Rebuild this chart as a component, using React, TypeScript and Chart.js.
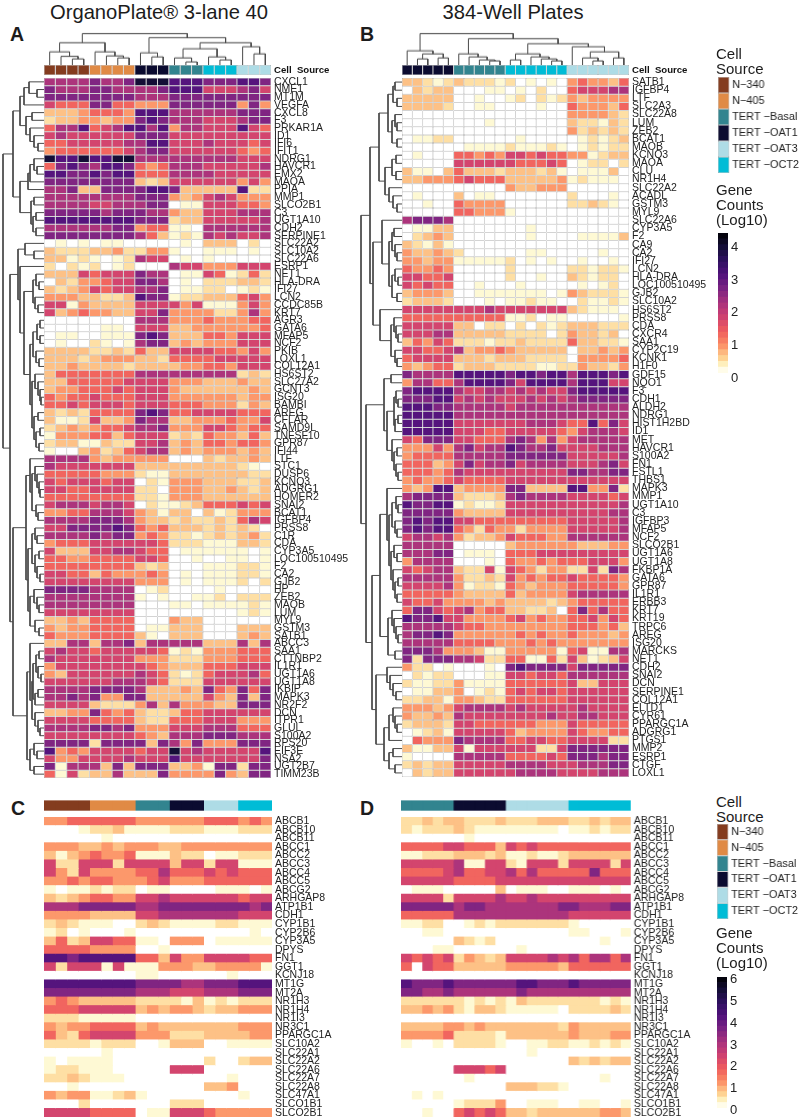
import React, { useEffect, useRef } from "react";
import { Chart, registerables } from "chart.js";

Chart.register(...registerables);
Chart.defaults.font.family = "'Liberation Sans', Arial, sans-serif";

const sourceNames = ["N−340", "N−405", "TERT −Basal", "TERT −OAT1", "TERT −OAT3", "TERT −OCT2"];
const sourceColors = ["#843C1F", "#E08A45", "#32848F", "#0B0B30", "#AEDCE6", "#00BCD6"];

const sourceA = [0,0,0,0,1,1,1,1,3,3,3,2,2,2,5,5,5,4,4,4];
const sourceB = [3,3,3,3,3,2,2,2,2,2,5,5,5,5,5,5,4,4,4,4,4,4];
const sourceC = [0,0,0,0,1,1,1,1,2,2,2,3,3,3,4,4,4,5,5,5];
const sourceD = [2,2,2,2,2,3,3,3,3,3,4,4,4,4,4,4,5,5,5,5,5,5];

const genesA = ["CXCL1","NME1","MT1M","VEGFA","CXCL8","F3","PRKAR1A","ID1","IFI6","IFIT1","NDRG1","HAVCR1","EMX2","MAOA","PPIA","MMP1","SLCO2B1","C3","UGT1A10","CDH2","SERPINE1","SLC22A2","SLC10A2","SLC22A6","ESRP1","NET1","HLA-DRA","IFI27","LCN2","CCDC85B","KRT7","AGR3","GATA6","MFAP5","NCF2","PKIB","LOXL1","COL12A1","HS6ST2","SLC27A2","GCNT3","ISG20","BAMBI","AREG","CFLAR","SAMD9L","TNFSF10","GPR87","IFI44","LTF","STC1","DUSP6","KCNQ3","ADGRG1","HOMER2","SNAI2","BCAT1","IGFBP4","PRSS8","C1R","CDA","CYP3A5","LOC100510495","F2","CA2","GJB2","HP","ZEB2","MAOB","LUM","MYL9","GSTM3","SATB1","ABCC3","SAA1","CTTNBP2","IL1R1","UGT1A6","UGT1A8","IKBIP","MAPK3","NR2F2","DCN","ITPR1","GLUL","S100A2","RPS20","EIF3E","NSA2","UGT2B7","TIMM23B"];

const levelsA = [
[7,7,7,7,8,7,7,8,10,10,10,9,9,9,8,8,8,9,9,8],
[8,7,7,7,8,8,7,7,7,7,8,9,9,9,6,6,6,7,8,6],
[8,8,8,8,8,8,8,8,7,7,7,8,8,8,8,8,8,8,8,8],
[6,5,5,5,8,8,5,5,4,4,4,8,8,8,8,8,8,4,8,4],
[3,3,3,4,5,5,5,4,9,9,9,7,7,7,7,7,7,8,8,8],
[2,3,3,4,4,3,4,4,8,9,8,7,7,7,6,6,6,7,8,8],
[5,7,7,9,5,6,7,9,9,7,9,4,7,7,6,6,6,9,6,5],
[6,7,6,6,6,6,6,6,8,8,8,6,6,6,6,6,6,6,6,6],
[5,5,6,6,6,6,6,7,7,9,9,6,6,6,7,6,6,6,5,6],
[4,5,5,5,5,5,5,6,7,8,8,6,6,6,6,6,6,5,4,5],
[10,9,9,10,9,9,10,10,7,7,7,7,7,7,7,7,7,6,6,6],
[5,8,9,8,7,9,9,8,5,4,5,7,7,7,6,6,6,6,6,7],
[9,9,8,8,9,8,9,9,5,5,5,7,7,7,7,6,6,6,6,6],
[8,8,8,8,8,8,8,8,3,2,3,6,6,6,6,6,6,4,6,4],
[7,7,8,3,3,8,8,8,8,9,9,8,3,3,3,3,3,9,2,2],
[7,7,7,7,7,7,7,7,8,8,8,4,3,4,6,7,6,4,4,4],
[7,7,7,7,6,6,7,7,7,8,8,0,1,1,6,6,6,5,5,4],
[8,8,8,8,8,7,8,8,8,7,7,4,3,3,6,6,6,7,7,7],
[9,9,9,9,9,9,9,9,8,8,8,2,3,3,6,6,6,6,6,7],
[7,7,7,7,7,7,8,8,4,5,5,1,1,0,7,7,7,7,7,7],
[8,8,8,8,8,8,8,8,7,5,3,1,2,1,7,6,7,6,6,7],
[0,1,0,1,0,1,1,0,0,0,0,0,1,0,3,3,3,0,2,0],
[3,2,2,2,3,3,4,2,2,4,4,1,0,0,1,1,1,0,1,0],
[3,3,1,2,1,0,1,2,7,6,6,0,1,0,1,0,0,0,0,0],
[2,0,2,1,2,0,1,2,0,0,0,7,6,6,4,4,4,6,6,6],
[3,3,3,6,5,6,6,6,8,7,7,0,1,1,6,5,1,2,5,2],
[0,3,2,4,4,5,6,6,8,8,7,0,1,0,2,2,2,3,3,2],
[3,2,3,4,6,5,6,6,7,7,8,0,1,1,2,2,0,1,2,1],
[4,4,4,3,3,2,2,3,9,8,8,1,2,2,3,3,3,5,6,4],
[6,6,1,4,3,3,3,3,6,6,6,6,4,6,1,1,1,4,6,4],
[6,3,4,5,4,4,3,3,6,6,8,4,4,4,4,2,2,4,7,4],
[0,0,0,0,0,0,0,0,7,7,7,4,4,4,5,4,4,4,5,5],
[0,0,0,0,0,1,1,0,6,6,6,3,3,4,4,4,4,4,4,5],
[0,1,1,0,0,1,1,1,8,9,8,3,3,3,5,5,4,6,6,6],
[0,1,0,0,2,1,0,1,7,8,8,3,4,3,4,4,4,6,6,6],
[3,3,3,3,2,2,3,2,5,3,3,6,6,6,6,5,5,4,6,4],
[3,3,3,2,3,4,4,4,3,3,2,5,5,5,5,6,6,6,6,6],
[3,3,4,3,3,3,3,2,3,3,3,3,4,4,5,5,4,6,6,6],
[3,5,5,5,5,5,5,5,7,7,7,7,7,7,7,7,7,2,3,2],
[3,3,5,5,5,5,5,6,6,6,6,4,4,4,3,3,3,4,3,3],
[3,4,4,5,5,5,6,5,6,6,6,4,3,3,3,3,3,3,4,3],
[5,4,5,5,6,5,5,5,6,6,6,4,4,4,4,4,4,3,4,4],
[5,5,6,5,6,6,6,5,6,6,6,5,5,5,4,4,4,2,4,3],
[3,2,3,2,5,5,5,5,8,9,8,5,5,6,6,6,6,5,5,5],
[3,1,1,2,6,3,3,4,8,7,7,3,3,4,4,4,5,4,4,6],
[2,3,4,3,4,5,5,6,7,7,8,4,4,4,6,6,5,4,5,5],
[1,4,4,4,5,5,3,5,6,6,6,2,3,2,5,4,4,3,5,3],
[2,3,3,1,1,3,2,2,6,6,7,3,4,3,5,5,4,5,5,4],
[1,0,0,3,4,2,3,5,6,7,7,3,4,3,4,4,4,3,4,3],
[7,7,7,7,4,3,4,4,4,4,4,0,0,0,3,2,3,3,4,3],
[7,6,6,6,6,6,6,6,3,3,3,3,3,3,3,3,3,2,1,0],
[5,5,5,5,5,4,4,4,2,1,1,3,3,3,3,3,3,3,2,2],
[6,5,6,6,6,5,6,6,0,2,1,4,4,4,3,3,3,2,2,3],
[6,6,5,5,6,6,6,6,2,2,0,4,4,4,3,3,4,3,2,3],
[5,5,5,5,5,5,5,5,2,2,1,4,4,4,3,3,3,3,3,3],
[6,7,7,7,6,7,7,6,0,2,1,1,2,3,5,5,5,6,5,6],
[4,4,5,5,7,7,7,6,4,3,1,3,3,0,3,1,2,4,4,4],
[7,7,7,7,8,8,8,7,4,3,3,2,3,2,2,3,2,5,7,6],
[6,6,8,8,8,8,9,8,5,4,5,3,3,3,2,3,2,3,2,0],
[7,7,7,7,8,7,8,8,4,5,4,2,2,1,2,3,2,3,4,2],
[4,5,5,5,6,6,6,6,6,6,5,2,2,2,1,1,1,3,3,2],
[6,3,3,3,6,6,7,7,6,5,5,0,1,1,1,1,1,1,0,1],
[5,5,4,4,5,5,5,5,6,6,5,0,0,1,0,0,1,1,0,1],
[5,5,5,5,5,5,5,5,3,2,3,0,0,0,1,1,1,2,2,1],
[6,6,5,5,3,5,4,4,4,5,4,0,1,0,1,1,1,2,2,1],
[6,6,6,6,6,6,6,6,4,4,4,0,1,0,1,1,1,2,0,2],
[8,8,8,8,7,7,7,7,0,1,2,0,0,0,0,1,0,0,0,0],
[7,7,7,7,7,7,7,7,1,0,1,0,0,1,1,2,0,2,2,2],
[7,7,7,7,7,7,7,7,0,0,0,1,1,0,1,1,1,1,2,1],
[6,6,6,6,6,6,6,6,0,0,0,0,0,0,0,0,0,1,2,1],
[3,3,4,3,5,5,5,5,0,0,0,4,3,3,0,0,0,0,0,0],
[4,3,4,4,5,5,5,5,0,1,1,3,3,3,0,0,0,3,3,3],
[5,4,4,4,5,5,5,5,3,1,0,3,3,3,0,0,0,3,4,3],
[3,3,7,7,3,7,7,8,3,7,7,7,7,7,3,3,3,7,3,7],
[6,7,6,6,5,6,6,6,6,6,5,1,2,1,4,4,4,5,5,5],
[7,6,6,6,6,6,6,6,4,4,4,2,2,2,4,4,4,5,5,5],
[4,6,6,6,6,6,6,6,6,5,4,3,3,3,5,5,5,6,6,6],
[4,3,6,6,6,6,6,6,7,6,5,2,1,2,5,6,6,6,7,5],
[6,6,6,6,6,6,7,7,7,6,5,2,2,2,6,6,6,6,6,6],
[7,7,7,7,8,8,8,8,7,3,3,3,4,3,8,5,4,8,5,8],
[7,7,8,7,8,4,4,8,8,3,3,3,3,3,6,4,3,8,3,8],
[6,6,6,6,3,2,2,2,4,7,3,7,4,4,4,3,3,8,8,8],
[3,3,4,4,8,5,4,5,3,2,2,3,5,5,6,6,6,6,6,6],
[6,6,6,6,5,5,5,5,3,2,2,5,5,5,6,6,6,4,4,4],
[7,7,7,7,8,8,7,8,4,4,4,6,6,6,7,7,7,5,5,5],
[6,6,6,6,6,6,6,6,5,4,3,7,7,7,8,8,8,7,7,7],
[8,8,8,8,2,8,8,8,8,3,8,7,4,8,4,4,4,8,8,8],
[9,4,5,4,6,6,6,6,5,6,6,10,6,7,6,6,6,6,6,9],
[6,4,4,6,6,6,6,7,6,6,6,9,6,6,6,6,6,6,6,8],
[8,1,7,7,7,3,8,3,8,8,8,3,3,4,1,8,8,2,8,8],
[5,1,6,2,3,3,7,3,3,3,8,4,4,4,4,8,4,3,8,8],
];

const genesB = ["SATB1","IGFBP4","LTF","SLC2A3","SLC22A8","LUM","ZEB2","BCAT1","MAOB","KCNQ3","MAOA","CLU","NR1H4","SLC22A2","ACADL","GSTM3","MYL9","SLC22A6","CYP3A5","F2","CA9","CA2","IFI27","LCN2","HLA-DRA","LOC100510495","GJB2","SLC10A2","HS6ST2","PRSS8","CDA","CXCR4","SAA1","CYP2C19","KCNK1","H1F0","GDF15","NQO1","F3","CDH1","ALDH2","NDRG1","HIST1H2BD","ID1","MET","HAVCR1","S100A2","FN1","FSTL1","THBS1","MAPK3","MMP1","UGT1A10","C3","IGFBP3","MFAP5","NCF2","SLCO2B1","UGT1A6","UGT1A8","FKBP1A","GATA6","GPR87","IL1R1","ERBB3","KRT7","KRT19","TRPC6","AREG","ISG20","MARCKS","NET1","CDH2","SNAI2","DCN","SERPINE1","COL12A1","ELTD1","CYR61","PPARGC1A","ADGRG1","PTGS1","MMP2","ESRP1","CTGF","LOXL1"];

const levelsB = [
[3,3,2,1,2,3,2,2,2,1,2,0,1,0,1,0,4,5,4,4,3,5],
[0,3,2,3,3,0,0,0,1,1,0,1,0,2,0,0,5,6,6,6,7,7],
[3,3,3,3,3,0,0,1,0,0,1,2,0,2,1,2,4,3,4,4,4,4],
[3,3,3,3,2,0,0,1,1,0,0,0,0,1,0,0,5,4,4,4,3,5],
[0,0,0,0,0,0,0,0,0,0,0,0,0,0,0,0,4,4,4,4,3,2],
[0,0,0,0,0,0,0,0,1,0,0,0,0,0,0,0,3,2,2,1,3,2],
[0,0,0,0,0,0,0,0,0,0,0,0,0,0,0,0,4,2,3,2,3,2],
[0,1,1,2,2,0,0,0,0,0,0,1,0,0,0,0,0,1,2,1,2,3],
[0,0,0,0,0,0,1,1,1,1,2,1,1,1,2,1,0,1,2,1,2,2],
[0,1,0,0,0,5,5,4,5,4,6,6,5,6,5,5,4,4,1,2,3,3],
[0,0,0,0,0,6,6,6,6,6,6,5,5,5,6,5,0,1,2,2,0,2],
[3,1,1,0,3,5,3,3,3,2,3,3,3,2,3,1,0,1,1,1,3,0],
[3,3,4,4,4,5,6,5,5,5,3,3,3,3,3,4,1,2,1,1,1,0],
[0,0,0,0,0,0,0,0,0,0,4,3,3,4,4,4,0,0,0,0,0,0],
[0,1,0,0,0,3,0,1,1,0,0,0,0,0,0,0,2,0,0,0,1,0],
[0,0,1,0,0,5,4,4,4,4,0,0,0,0,0,0,2,2,3,2,1,0],
[0,0,0,0,0,5,5,4,4,4,1,0,0,0,0,0,0,0,0,0,0,0],
[7,8,8,8,7,0,0,0,0,0,0,0,0,0,0,0,0,0,0,0,0,0],
[0,1,1,3,3,0,0,0,0,0,0,0,1,0,0,0,0,0,0,0,0,0],
[0,2,3,4,3,0,0,0,0,0,0,0,1,0,0,0,0,1,1,1,1,3],
[3,2,1,3,1,0,0,0,0,0,0,0,0,0,0,0,0,0,0,0,0,0],
[4,3,3,4,3,2,0,0,0,0,0,0,1,1,0,0,0,0,0,1,0,0],
[4,4,3,4,4,1,1,1,1,1,2,0,1,0,1,0,0,1,0,0,1,0],
[5,4,4,5,4,0,0,0,0,0,2,0,0,0,0,0,2,2,1,2,2,1],
[6,6,5,5,6,0,0,0,0,0,2,0,0,1,0,0,3,2,1,2,2,0],
[6,5,6,5,5,0,0,1,0,0,0,1,0,0,0,0,0,1,0,1,2,0],
[3,4,4,4,3,0,0,1,1,1,1,1,1,1,0,1,4,3,2,2,2,1],
[2,3,3,3,2,0,0,0,1,0,1,1,2,1,1,0,0,2,1,1,2,1],
[6,6,6,6,6,6,6,6,7,6,6,6,6,6,6,6,3,2,1,1,1,0],
[5,5,5,5,5,5,5,5,5,5,1,1,2,0,1,1,0,0,0,0,0,1],
[6,6,6,6,6,3,3,0,2,2,0,2,0,2,1,2,3,3,3,2,2,2],
[6,6,6,7,7,3,3,3,3,3,2,2,2,2,0,2,4,3,3,2,3,0],
[3,5,4,6,5,2,2,2,1,2,2,3,2,2,2,2,5,3,3,2,2,1],
[6,6,5,5,6,7,3,4,4,5,4,3,3,3,3,3,0,3,3,4,3,4],
[5,6,6,6,6,3,3,3,2,3,3,3,2,2,2,2,0,4,4,4,4,5],
[4,3,4,5,5,2,3,3,3,2,2,2,2,1,1,2,2,4,3,3,2,4],
[8,7,7,7,7,9,9,9,9,9,8,9,9,8,9,9,7,9,9,9,8,9],
[4,7,7,5,5,7,9,9,9,9,8,6,9,9,9,9,7,9,9,9,6,6],
[8,9,9,9,9,7,6,6,7,7,6,7,6,7,6,6,8,9,9,9,9,9],
[8,8,8,9,9,6,7,6,7,6,6,6,7,6,7,6,7,8,8,8,8,8],
[9,9,9,8,8,7,7,7,7,7,6,7,7,7,7,7,7,7,7,7,7,7],
[9,9,9,9,9,7,7,7,7,7,7,7,7,7,7,7,7,7,7,7,7,7],
[9,9,9,9,9,6,6,6,6,6,6,6,7,7,7,6,5,5,9,5,8,6],
[9,9,9,9,9,6,6,6,5,5,6,6,6,6,6,5,4,6,7,7,7,6],
[6,5,8,8,8,6,6,5,5,5,7,8,7,4,7,4,6,7,7,7,7,7],
[4,4,4,6,4,7,8,6,7,7,9,8,7,7,8,6,6,6,6,7,7,7],
[4,5,5,5,5,7,7,7,7,7,8,8,8,8,8,8,6,6,6,6,6,7],
[5,5,5,3,4,6,8,6,7,7,8,6,7,7,7,7,6,6,6,7,8,6],
[5,5,5,4,5,7,6,6,6,6,6,6,6,6,6,6,8,8,7,7,8,8],
[4,5,4,4,5,6,5,5,5,5,6,6,6,6,6,6,6,6,6,6,6,6],
[4,3,4,9,9,3,4,4,4,4,8,8,3,3,3,3,9,9,4,4,8,2],
[7,8,8,8,8,3,2,2,2,3,7,8,7,7,7,7,6,6,6,6,5,6],
[9,8,8,9,9,1,2,1,1,2,6,6,6,6,6,6,6,6,6,6,6,7],
[8,8,8,8,8,4,3,3,3,3,6,6,6,6,6,6,6,6,6,6,7,7],
[8,9,8,9,9,6,6,5,5,5,5,5,5,5,5,5,6,6,6,6,6,7],
[8,9,8,9,9,5,4,2,5,4,4,2,4,4,4,4,6,6,6,6,6,7],
[6,7,7,6,7,4,2,3,3,4,6,5,5,5,4,4,7,7,7,7,7,7],
[7,7,7,7,7,0,0,0,0,0,3,4,4,4,4,4,4,3,3,3,4,4],
[7,7,7,8,8,0,1,1,1,0,5,5,5,6,6,6,6,6,6,6,6,6],
[4,7,7,7,7,0,0,0,1,0,5,4,4,5,4,5,5,5,6,6,6,4],
[6,5,6,7,7,3,2,2,6,1,6,5,4,2,4,4,2,2,6,2,8,7],
[7,7,7,7,7,4,2,2,3,2,6,4,5,4,5,5,6,5,5,5,5,4],
[6,6,6,6,7,4,1,2,2,1,5,4,3,4,4,4,5,5,5,5,5,4],
[5,5,5,5,5,4,3,3,3,3,5,3,4,4,4,4,6,7,7,7,7,7],
[6,5,5,6,4,4,4,4,3,4,3,3,3,3,2,3,4,5,5,5,5,5],
[5,8,8,6,5,6,7,4,5,5,3,3,2,2,3,0,5,8,5,7,5,5],
[9,8,8,9,6,6,4,4,4,4,5,6,4,5,4,4,5,5,6,4,6,5],
[7,7,7,7,7,6,5,5,4,4,4,4,4,4,4,4,5,5,5,4,5,3],
[7,8,8,9,8,4,4,4,4,4,4,5,4,5,4,4,5,4,4,4,3,4],
[7,7,7,7,7,5,5,5,5,4,4,4,5,4,5,4,4,4,4,4,4,4],
[8,8,8,7,4,4,4,3,1,1,4,4,4,4,4,1,5,6,1,1,7,7],
[8,2,8,8,8,7,7,6,2,2,5,5,1,1,5,2,6,3,1,2,3,6],
[4,2,2,0,1,0,0,0,1,0,8,9,8,8,8,8,6,8,8,8,8,8],
[0,2,1,2,2,0,0,0,1,1,6,6,5,6,6,5,7,7,7,7,7,7],
[2,1,1,2,2,4,1,1,1,1,5,5,5,5,5,5,6,3,3,6,6,6],
[0,1,1,3,3,4,0,1,2,1,5,6,5,6,6,5,6,6,6,6,6,6],
[2,2,3,3,1,4,4,3,2,2,5,5,5,5,5,5,6,6,6,6,6,6],
[4,4,4,3,4,6,7,7,7,7,6,7,6,6,6,6,6,7,6,6,6,6],
[4,3,3,4,3,7,6,6,6,6,6,6,6,6,7,6,6,7,7,6,6,6],
[2,3,3,3,2,6,6,5,5,5,5,5,5,4,4,4,6,5,5,5,5,5],
[0,1,2,3,1,6,6,6,6,6,5,3,4,4,4,4,6,5,4,4,5,5],
[0,5,4,4,4,8,7,7,7,7,5,5,6,6,5,5,6,6,6,6,2,2],
[3,1,1,3,3,6,1,6,6,6,6,6,6,2,2,6,8,8,8,8,8,8],
[1,0,0,0,0,7,7,7,7,7,5,5,5,5,6,5,8,8,8,7,8,8],
[2,3,2,3,3,6,6,6,6,6,7,7,7,7,6,6,6,7,7,7,8,8],
[0,3,2,3,3,6,6,6,6,6,6,7,7,7,7,6,6,6,6,7,7,7],
];

const genesCD = ["ABCB1","ABCB10","ABCB11","ABCC1","ABCC2","ABCC3","ABCC4","ABCC5","ABCG2","ARHGAP8","ATP1B1","CDH1","CYP1B1","CYP2B6","CYP3A5","DPYS","FN1","GGT1","KCNJ18","MT1G","MT2A","NR1H3","NR1H4","NR1I3","NR3C1","PPARGC1A","SLC10A2","SLC22A1","SLC22A2","SLC22A6","SLC22A7","SLC22A8","SLC47A1","SLCO1B1","SLCO2B1"];

const levelsC = [
[4,4,5,5,5,5,5,5,4,4,4,4,4,4,5,5,5,4,5,4],
[0,0,0,1,2,2,3,1,1,1,1,2,2,2,1,1,1,2,2,2],
[0,0,0,0,0,1,0,0,0,0,0,0,0,0,0,0,0,0,0,0],
[4,4,4,3,3,4,3,4,4,4,3,3,4,4,4,4,4,4,4,4],
[3,1,3,4,5,4,4,5,1,1,1,3,2,2,0,1,1,2,2,2],
[6,2,2,6,6,6,2,6,6,6,6,3,6,6,2,6,6,1,1,1],
[6,4,2,6,4,4,4,4,5,5,7,5,5,5,6,5,6,5,5,5],
[4,4,5,4,5,5,4,4,4,5,6,4,4,4,5,5,5,5,5,5],
[1,0,1,1,2,1,2,2,0,1,1,0,0,0,0,1,1,1,0,1],
[3,2,3,4,5,5,4,4,6,6,7,6,6,6,6,6,6,5,6,6],
[7,7,7,8,8,8,8,8,7,7,8,8,8,8,8,8,8,8,7,8],
[4,4,4,4,3,3,3,3,6,6,7,7,7,7,7,7,7,6,6,6],
[2,3,2,1,1,1,0,0,2,3,2,1,1,1,1,2,2,1,1,1],
[1,2,0,1,0,0,0,1,0,0,0,0,0,0,0,0,0,0,1,0],
[3,5,2,3,6,6,5,5,1,1,0,4,4,4,0,1,1,1,1,1],
[5,5,5,5,4,4,4,4,0,0,1,0,0,0,0,0,0,0,0,0],
[9,9,8,9,9,9,9,9,5,5,3,6,4,4,6,6,6,6,5,5],
[6,2,6,6,6,1,6,1,1,1,4,4,4,3,3,4,4,4,4,1],
[0,0,0,0,0,0,0,0,1,1,0,0,0,0,0,0,1,0,0,0],
[9,9,9,9,9,9,9,9,8,8,8,8,7,7,8,8,8,9,9,9],
[8,8,8,8,8,8,8,8,7,7,7,6,6,6,7,7,7,8,8,8],
[4,5,4,3,3,3,3,3,2,2,2,2,1,3,1,2,1,2,2,2],
[5,5,5,6,6,6,6,6,3,4,3,4,4,3,2,3,3,4,4,4],
[2,2,2,1,1,1,1,1,0,0,0,0,0,0,0,0,0,0,0,0],
[4,3,4,4,5,5,5,5,3,4,3,3,3,3,3,3,3,4,4,4],
[5,3,2,5,6,6,6,6,4,4,4,2,2,2,3,3,3,3,4,4],
[2,2,2,2,1,2,2,2,0,0,1,3,3,3,0,0,1,1,1,1],
[0,0,0,0,0,1,0,0,0,0,0,0,0,0,0,0,0,0,0,0],
[1,0,1,1,1,1,0,0,0,0,0,0,0,0,2,0,0,2,3,3],
[1,2,2,1,1,1,0,0,0,0,0,6,6,6,0,0,0,0,0,0],
[2,2,3,2,1,1,1,0,0,0,0,0,0,0,0,0,1,0,0,0],
[0,0,1,0,0,0,0,0,0,0,0,0,0,0,3,3,4,0,0,0],
[4,3,4,4,1,1,2,3,1,0,0,0,0,0,0,0,0,1,0,0],
[0,0,0,2,0,0,0,0,0,0,0,2,2,2,0,0,0,0,0,0],
[6,6,6,6,5,5,5,5,0,1,1,6,6,6,5,4,4,4,4,4],
];

const levelsD = [
[2,2,3,2,3,3,2,2,2,3,2,2,2,3,3,3,2,2,3,2,3,3],
[2,1,2,2,2,3,2,1,1,1,1,1,1,1,1,0,1,1,2,1,2,2],
[0,0,0,0,0,0,1,0,0,0,0,0,0,0,0,0,0,0,0,0,0,0],
[5,5,5,5,6,6,5,5,5,3,6,5,6,5,5,5,5,5,5,5,5,5],
[1,1,2,2,2,3,3,3,2,3,1,1,2,1,1,2,3,3,3,3,3,3],
[6,6,6,6,6,7,1,1,6,6,2,1,6,6,6,2,6,6,6,6,2,6],
[5,5,5,5,6,7,5,5,6,6,7,5,7,5,5,5,5,5,8,5,5,5],
[6,6,6,6,6,5,5,5,5,6,6,6,6,6,6,6,6,6,6,6,6,6],
[0,1,1,1,0,0,0,0,0,3,0,1,1,1,0,0,1,1,1,0,1,0],
[6,6,6,6,2,6,6,6,6,7,6,6,7,6,6,6,6,6,6,6,6,6],
[8,8,8,8,8,7,8,8,7,7,7,7,7,7,7,8,8,7,7,7,8,8],
[5,5,5,5,5,7,7,7,7,7,7,7,7,7,7,7,6,6,6,6,6,6],
[1,1,2,2,0,0,1,2,1,2,2,2,2,2,2,2,1,0,0,0,0,0],
[0,0,1,1,0,0,0,0,0,0,0,0,0,0,0,0,1,1,0,0,0,1],
[0,0,0,0,0,3,2,1,2,0,0,0,0,0,0,0,0,0,0,1,0,0],
[0,0,0,1,1,0,0,0,0,0,0,1,0,0,0,0,0,0,0,0,0,0],
[6,5,6,5,6,2,4,3,2,3,6,6,6,6,7,6,7,5,7,7,5,7],
[5,0,6,5,5,3,3,3,3,3,4,4,4,4,4,3,5,5,5,5,5,5],
[0,0,0,0,0,0,0,0,0,0,0,0,0,0,0,0,0,0,0,0,0,0],
[9,8,8,8,9,8,8,8,8,8,8,9,9,8,8,8,9,8,8,8,8,8],
[8,8,7,7,8,7,7,7,7,7,7,8,7,7,7,7,7,7,7,7,7,7],
[2,2,2,2,2,2,1,2,1,2,1,3,2,2,2,2,2,2,2,1,2,1],
[3,3,4,3,4,2,1,3,3,2,1,1,1,1,1,0,2,2,2,2,3,2],
[0,0,0,0,0,0,0,0,0,0,0,0,0,0,0,0,0,0,0,0,0,0],
[3,3,3,3,4,4,3,4,3,3,3,3,3,3,3,2,4,3,3,3,3,3],
[4,4,4,4,5,2,2,2,2,1,3,3,3,3,3,3,4,3,3,3,4,4],
[1,0,0,1,0,2,2,2,2,1,0,0,1,1,2,2,1,1,2,1,2,1],
[0,0,0,0,0,0,0,0,0,0,0,0,1,0,0,0,0,0,0,0,0,0],
[0,0,0,0,0,0,0,0,0,0,0,0,0,0,0,0,3,2,3,2,3,3],
[0,0,0,0,0,6,6,6,5,6,0,0,0,0,0,0,0,0,0,0,0,0],
[0,0,0,0,0,0,1,0,0,0,0,0,0,0,0,0,0,0,0,1,0,0],
[0,0,0,0,0,0,0,0,0,0,3,3,3,2,2,1,0,0,0,0,0,0],
[0,1,0,1,0,0,0,0,0,0,0,0,0,0,0,0,0,0,0,0,0,0],
[0,0,0,0,0,1,2,2,2,4,0,0,1,1,1,0,0,1,1,0,0,1],
[0,0,1,0,0,5,6,5,6,5,3,3,2,3,3,3,3,3,3,4,4,3],
];

// dendrograms: [merge height, left child, right child]; o is a leaf
const o = 0;
const rowTreeA: any = [41,
  [31,
    [24,
      [20, [15, o, [7, o, o]], o],
      [18, [12, o, o], [14, o, [10, o, [6, o, o]]]]],
    [24,
      [16, [14, [10, o, [7, o, o]], o], o],
      [13, [10, o, o], [11, [8, o, o], [8, o, o]]]]],
  [34,
    [26,
      [19, o, [10, o, o]],
      [24, o, [20,
        [11, [8, o, [5, o, o]], [9, o, [6, o, o]]],
        [14,
          [11, [7, [4, o, o], [4, o, o]], [8, o, [5, o, o]]],
          [12, [9, o, [6, o, [4, o, [3, o, o]]]], [10, [6, o, o], [8, [4, o, o], [5, o, o]]]]]]]],
    [31,
      [18,
        [14, o, [12, [9, o, [7, o, [5, o, [4, o, o]]]], [8, o, [6, o, o]]]],
        [16,
          [12, [9, o, [7, o, o]], [9, [5, o, o], [7, o, [4, o, o]]]],
          [14, [10, o, [7, o, [5, o, o]]], [9, o, [5, o, o]]]]],
      [17,
        [14, o, [12, [11, [8, [5, o, o], [6, o, [3, o, o]]], [9, [6, o, o], o]], [9, o, [6, o, [4, o, o]]]]],
        [14, [10, o, [7, o, o]], [10, o, o]]]]]];

const rowTreeB: any = [41,
  [32,
    [23,
      [14, [9, [7, o, o], [5, o, o]], [10, [7, o, [5, o, o]], [5, o, o]]],
      [17, [10, [6, o, o], [6, o, o]], [13, o, [9, o, [5, o, o]]]]],
    [29,
      [20, o, [13, [10, [8, o, o], [7, o, [5, o, o]]], [10, [7, o, [4, o, o]], [5, o, o]]]],
      [22, o, [11, [8, o, [6, o, [4, o, o]]], [7, o, [5, o, o]]]]]],
  [36,
    [18,
      [11, o, o],
      [15,
        [8, [6, o, [4, o, o]], [7, [4, o, o], o]],
        [10, o, [8, [5, o, o], [6, o, [4, o, o]]]]]],
    [30,
      [22,
        [15, o, [13,
          [10, [6, o, [4, o, o]], [7, o, [5, o, o]]],
          [11, [8, o, [5, o, o]], [9, o, [7, [4, o, o], [5, o, o]]]]]],
        [14, [10, o, [8, o, [6, o, [4, o, o]]]], [7, o, o]]],
      [26,
        [15, o, [12, o, [9, o, [6, o, o]]]],
        [18, [13, [9, o, [7, o, [5, o, o]]], o], [13, [9, o, o], [7, o, o]]]]]]];

const colTreeA: any = [31,
  [22, [13, o, [8.5, o, [6, o, o]]], [13, o, [9, o, [7, o, o]]]],
  [27,
    [12, o, [8, o, o]],
    [22, [16, [7, o, [3, o, o]], [8, o, [5, o, o]]], [18, o, [11, o, o]]]]];

const colTreeB: any = [31,
  [14, o, [11, [6, o, o], [7, o, o]]],
  [26,
    [11, o, [8, o, [5, o, [4, o, o]]]],
    [21,
      [11, [5, o, o], [8, o, [6, o, [4, o, o]]]],
      [18, o, [13, [7, o, [4, o, o]], [7, o, o]]]]]];

const tickValuesAB = [0, 1, 2, 3, 4];
const tickValuesCD = [0, 1, 2, 3, 4, 5, 6];

// colour ramp: reversed magma with a white start
const rampStops: [number, string][] = [
  [0, "#FFFFFF"], [0.05, "#FEF7C9"], [0.1, "#FED594"], [0.15, "#FDB47D"], [0.2, "#FB8C63"],
  [0.3, "#EE5B5E"], [0.4, "#CE4171"], [0.5, "#A8327D"], [0.6, "#7B2382"], [0.7, "#51127C"],
  [0.8, "#2E1060"], [0.9, "#140E36"], [1, "#000004"],
];
const levelStops = [0, 0.04, 0.085, 0.13, 0.185, 0.28, 0.385, 0.49, 0.59, 0.69, 0.9];

function ramp(t: number): string {
  const c = Math.max(0, Math.min(1, t));
  let i = 0;
  while (i < rampStops.length - 2 && c > rampStops[i + 1][0]) i++;
  const [t0, a] = rampStops[i];
  const [t1, b] = rampStops[i + 1];
  const f = (c - t0) / (t1 - t0);
  const ch = (s: string, k: number) => parseInt(s.slice(k, k + 2), 16);
  const mix = (k: number) => Math.round(ch(a, k) + (ch(b, k) - ch(a, k)) * f);
  return `rgb(${mix(1)},${mix(3)},${mix(5)})`;
}
const levelColor = (l: number) => ramp(levelStops[l] ?? 0);
const sourceColor = (i: number) => sourceColors[i];

type Box = { left: number; top: number; width: number; height: number };

function heatConfig(
  labels: string[],
  matrix: number[][],
  color: (v: number) => string,
  o2: { grid: boolean; labelW: number; font: any; textColor?: string; pad?: number }
) {
  const nCols = matrix[0].length;
  const pad = o2.pad ?? 8;
  const datasets = Array.from({ length: nCols }, (_, c) => ({
    data: labels.map((g, r) => ({ x: [c, c + 1], y: g, level: matrix[r]?.[c] ?? 0 })),
    backgroundColor: (ctx: any) => color(ctx.raw?.level ?? 0),
    borderColor: o2.grid ? "#9C9C9C" : "rgba(0,0,0,0)",
    borderWidth: o2.grid ? 0.5 : 0,
    borderSkipped: false,
    inflateAmount: o2.grid ? 0 : 0.4,
    barPercentage: 1,
    categoryPercentage: 1,
    grouped: false,
  }));
  return {
    type: "bar",
    data: { labels, datasets },
    options: {
      indexAxis: "y",
      animation: false,
      responsive: false,
      events: [],
      layout: { padding: { top: pad, bottom: pad, left: 0, right: 0 } },
      plugins: { legend: { display: false }, tooltip: { enabled: false } },
      scales: {
        x: { type: "linear", min: 0, max: nCols, display: false },
        y: {
          type: "category",
          position: "right",
          grid: { display: false, drawTicks: false },
          border: { display: false },
          afterFit(s: any) {
            s.width = o2.labelW;
            s.paddingTop = 0;
            s.paddingBottom = 0;
          },
          ticks: {
            autoSkip: false,
            padding: 3,
            crossAlign: "near",
            color: o2.textColor ?? "#222",
            font: o2.font,
          },
        },
      },
    },
  };
}

function treeLinks(tree: any) {
  const links: { x: number; y: number }[][] = [];
  let leaf = 0;
  const walk = (n: any): { p: number; h: number } => {
    if (n === 0) return { p: leaf++ + 0.5, h: 0 };
    const a = walk(n[1]);
    const b = walk(n[2]);
    links.push([
      { x: a.p, y: a.h },
      { x: a.p, y: n[0] },
      { x: b.p, y: n[0] },
      { x: b.p, y: b.h },
    ]);
    return { p: (a.p + b.p) / 2, h: n[0] };
  };
  walk(tree);
  return links;
}

function dendroConfig(tree: any, count: number, heightMax: number, side: "left" | "top") {
  const links = treeLinks(tree);
  const datasets = links.map((l) => ({
    data: side === "left" ? l.map((q) => ({ x: q.y, y: q.x })) : l,
    showLine: true,
    borderColor: "#4A4A4A",
    borderWidth: 1,
    pointRadius: 0,
    tension: 0,
    clip: false,
  }));
  const pos = { type: "linear", min: 0, max: count, display: false };
  const hgt = { type: "linear", min: 0, max: heightMax, display: false };
  return {
    type: "scatter",
    data: { datasets },
    options: {
      animation: false,
      responsive: false,
      events: [],
      layout: { padding: 0 },
      plugins: { legend: { display: false }, tooltip: { enabled: false } },
      scales:
        side === "left"
          ? { x: { ...hgt, reverse: true }, y: { ...pos, reverse: true } }
          : { x: pos, y: hgt },
    },
  };
}

function colorbarConfig(max: number, ticks: number[], bands: number, labelOffset: number) {
  const step = max / bands;
  const datasets = Array.from({ length: bands }, (_, i) => ({
    data: [[i * step, (i + 1) * step]],
    backgroundColor: ramp(((i + 0.5) * step) / max * (max / (max > 5 ? 6 : 4.3))),
    borderWidth: 0,
    inflateAmount: 0.4,
    barPercentage: 1,
    categoryPercentage: 1,
    grouped: false,
  }));
  return {
    type: "bar",
    data: { labels: ["Gene Counts"], datasets },
    options: {
      animation: false,
      responsive: false,
      events: [],
      layout: { padding: { top: 10, bottom: 10, left: 0, right: 0 } },
      plugins: { legend: { display: false }, tooltip: { enabled: false } },
      scales: {
        x: { display: false },
        y: {
          type: "linear",
          position: "right",
          min: 0,
          max,
          grid: { display: false, drawTicks: false },
          border: { display: false },
          afterFit(s: any) {
            s.width = 22;
            s.paddingTop = 0;
            s.paddingBottom = 0;
          },
          afterBuildTicks(s: any) {
            s.ticks = ticks.map((value) => ({ value }));
          },
          ticks: {
            padding: 3,
            labelOffset,
            color: "#222",
            crossAlign: "near",
            font: { size: 13 },
          },
        },
      },
    },
  };
}

function ChartBox({ box, config }: { box: Box; config: () => any }) {
  const ref = useRef<HTMLCanvasElement | null>(null);
  useEffect(() => {
    const chart = new Chart(ref.current as HTMLCanvasElement, config());
    return () => chart.destroy();
  }, []);
  return (
    <canvas
      ref={ref}
      width={box.width}
      height={box.height}
      style={{ position: "absolute", left: box.left, top: box.top, width: box.width, height: box.height }}
    />
  );
}

function Txt({ x, y, size, bold, children }: { x: number; y: number; size: number; bold?: boolean; children: any }) {
  return (
    <div
      style={{
        position: "absolute",
        left: x,
        top: y,
        transform: "translateY(-50%)",
        fontSize: size,
        fontWeight: bold ? 700 : 400,
        lineHeight: 1,
        whiteSpace: "nowrap",
        color: "#1c1c1c",
        fontFamily: "'Liberation Sans', Arial, sans-serif",
      }}
    >
      {children}
    </div>
  );
}

const labelFont = { size: 10.5 };
const PAD = 8;

function Heat(p: {
  x: number; y: number; w: number; h: number; labels: string[]; matrix: number[][];
  color: (v: number) => string; grid: boolean; labelW?: number; font?: any; textColor?: string;
}) {
  const labelW = p.labelW ?? 90;
  return (
    <ChartBox
      box={{ left: p.x, top: p.y - PAD, width: p.w + labelW, height: p.h + 2 * PAD }}
      config={() => heatConfig(p.labels, p.matrix, p.color, { grid: p.grid, labelW, font: p.font ?? labelFont, textColor: p.textColor })}
    />
  );
}

export default function App() {
  const annFont = { size: 9.6, weight: "bold" as const };
  const legendFont = { size: 10.8 };
  const legendM = sourceNames.map((_, i) => [i]);
  return (
    <div style={{ position: "absolute", left: 0, top: 0, width: 800, height: 1120, overflow: "hidden", background: "#fff" }}>
      <div style={{ position: "absolute", left: 0, width: 318, top: 1, textAlign: "center", fontSize: 20.2, lineHeight: "23px", fontFamily: "'Liberation Sans', Arial, sans-serif", color: "#1c1c1c" }}>OrganoPlate® 3-lane 40</div>
      <div style={{ position: "absolute", left: 363, width: 300, top: 1, textAlign: "center", fontSize: 20.2, lineHeight: "23px", fontFamily: "'Liberation Sans', Arial, sans-serif", color: "#1c1c1c" }}>384-Well Plates</div>
      <Txt x={10} y={35} size={19.5} bold>A</Txt>
      <Txt x={360} y={35} size={19.5} bold>B</Txt>
      <Txt x={11} y={809} size={19.5} bold>C</Txt>
      <Txt x={360} y={809} size={19.5} bold>D</Txt>

      {/* panel A */}
      <ChartBox box={{ left: 44, top: 30, width: 227, height: 34.5 }} config={() => dendroConfig(colTreeA, 20, 34.5, "top")} />
      <Heat x={44} y={65} w={227} h={10} labels={["Cell  Source"]} matrix={[sourceA]} color={sourceColor} grid font={annFont} textColor="#111" />
      <ChartBox box={{ left: 1, top: 78, width: 43, height: 700 }} config={() => dendroConfig(rowTreeA, genesA.length, 43, "left")} />
      <Heat x={44} y={78} w={227} h={700} labels={genesA} matrix={levelsA} color={levelColor} grid />

      {/* panel B */}
      <ChartBox box={{ left: 402.3, top: 30, width: 227, height: 34.5 }} config={() => dendroConfig(colTreeB, 22, 34.5, "top")} />
      <Heat x={402.3} y={65} w={227} h={10} labels={["Cell  Source"]} matrix={[sourceB]} color={sourceColor} grid font={annFont} textColor="#111" />
      <ChartBox box={{ left: 359.3, top: 78, width: 43, height: 699 }} config={() => dendroConfig(rowTreeB, genesB.length, 43, "left")} />
      <Heat x={402.3} y={78} w={227} h={699} labels={genesB} matrix={levelsB} color={levelColor} grid labelW={84} />

      {/* panel C */}
      <Heat x={44} y={800} w={228} h={10.7} labels={[" "]} matrix={[sourceC]} color={sourceColor} grid={false} />
      <Heat x={44} y={816.7} w={228} h={300} labels={genesCD} matrix={levelsC} color={levelColor} grid={false} />

      {/* panel D */}
      <Heat x={401.3} y={800} w={229.4} h={10.7} labels={[" "]} matrix={[sourceD]} color={sourceColor} grid={false} labelW={80} />
      <Heat x={401.3} y={816.7} w={229.4} h={300} labels={genesCD} matrix={levelsD} color={levelColor} grid={false} labelW={80} />

      {/* upper legends */}
      <Txt x={716} y={52.5} size={15}>Cell</Txt>
      <Txt x={716} y={67.5} size={15}>Source</Txt>
      <Heat x={718} y={77} w={11.5} h={96} labels={sourceNames} matrix={legendM} color={sourceColor} grid labelW={71} font={legendFont} textColor="#222" />
      <Txt x={716} y={189} size={15}>Gene</Txt>
      <Txt x={716} y={204} size={15}>Counts</Txt>
      <Txt x={716} y={219} size={15}>(Log10)</Txt>
      <ChartBox box={{ left: 718, top: 223, width: 32, height: 160 }} config={() => colorbarConfig(4.3, tickValuesAB, 24, 5)} />

      {/* lower legends */}
      <Txt x={716} y={801} size={15}>Cell</Txt>
      <Txt x={716} y={816} size={15}>Source</Txt>
      <Heat x={717} y={824} w={11.5} h={95} labels={sourceNames} matrix={legendM} color={sourceColor} grid labelW={72} font={legendFont} textColor="#222" />
      <Txt x={716} y={932} size={15}>Gene</Txt>
      <Txt x={716} y={947} size={15}>Counts</Txt>
      <Txt x={716} y={962} size={15}>(Log10)</Txt>
      <ChartBox box={{ left: 717, top: 967, width: 32, height: 151 }} config={() => colorbarConfig(6, tickValuesCD, 24, 2.5)} />
    </div>
  );
}
